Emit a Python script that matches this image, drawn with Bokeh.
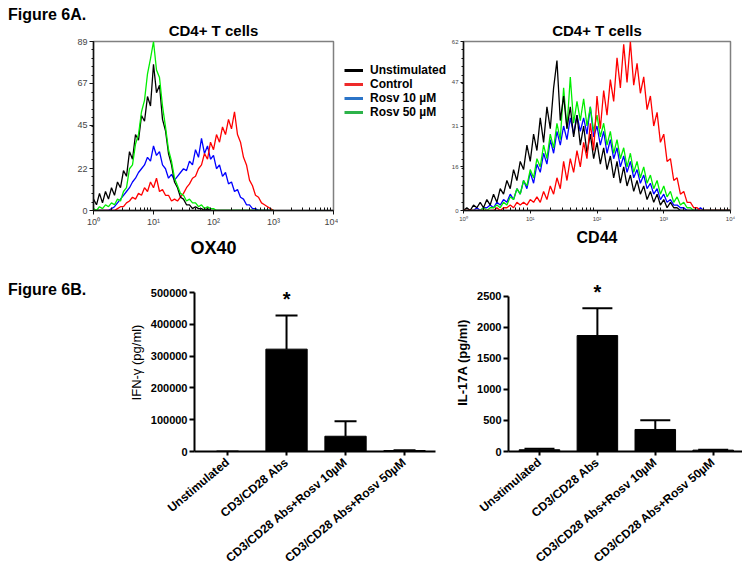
from bokeh.plotting import figure
from bokeh.models import (Legend, LegendItem, FixedTicker, Whisker, TeeHead,
                          ColumnDataSource, NumeralTickFormatter, Div)
from bokeh.layouts import row, column
from bokeh.embed import file_html
from bokeh.resources import INLINE
from bokeh.core.properties import value

FONT = "Liberation Sans"

# ---------------- Figure 6A data (histograms, log10 channel exponents) ----------------
OX40_EXP = [0.00, 0.05, 0.10, 0.15, 0.20, 0.25, 0.30, 0.35, 0.40, 0.45,
            0.50, 0.55, 0.60, 0.65, 0.70, 0.75, 0.80, 0.85, 0.90, 0.95,
            1.00, 1.05, 1.10, 1.15, 1.20, 1.25, 1.30, 1.35, 1.40, 1.45,
            1.50, 1.55, 1.60, 1.65, 1.70, 1.75, 1.80, 1.85, 1.90, 1.95,
            2.00, 2.05, 2.10, 2.15, 2.20, 2.25, 2.30, 2.35, 2.40, 2.45,
            2.50, 2.55, 2.60, 2.65, 2.70, 2.75, 2.80, 2.85, 2.90, 2.95, 3.00]
OX40_UNSTIM = [6, 3, 9, 4, 10, 6, 12, 8, 15, 12, 21, 18, 31, 27, 40, 37, 50, 47, 60, 55,
               77, 62, 66, 48, 42, 30, 24, 15, 12, 7, 6, 3, 3, 1, 2, 1, 1, 0, 1, 0,
               0, 0, 0, 0, 0, 0, 0, 0, 0, 0, 0, 0, 0, 0, 0, 0, 0, 0, 0, 0, 0]
OX40_CONTROL = [0, 0, 0, 0, 0, 0, 0, 0, 1, 2, 2, 4, 5, 7, 6, 9, 8, 12, 10, 15,
                12, 17, 10, 11, 8, 8, 5, 6, 5, 7, 9, 12, 14, 17, 18, 22, 24, 30, 27, 36,
                32, 40, 36, 44, 40, 48, 43, 52, 40, 36, 28, 24, 16, 13, 8, 7, 4, 3, 2, 1, 0]
OX40_ROSV10 = [0, 0, 0, 0, 0, 0, 1, 2, 4, 6, 8, 10, 12, 15, 17, 20, 22, 24, 28, 26,
               34, 29, 31, 24, 22, 17, 19, 16, 18, 20, 22, 21, 26, 24, 32, 28, 38, 30, 34, 27,
               29, 22, 24, 18, 20, 14, 15, 10, 11, 7, 6, 3, 3, 1, 1, 0, 0, 0, 0, 0, 0]
OX40_ROSV50 = [1, 0, 2, 1, 3, 2, 4, 3, 6, 5, 10, 12, 22, 24, 35, 40, 52, 58, 72, 80,
               89, 74, 70, 55, 44, 32, 26, 17, 13, 9, 8, 5, 6, 4, 4, 2, 3, 1, 2, 1,
               1, 0, 0, 0, 0, 0, 0, 0, 0, 0, 0, 0, 0, 0, 0, 0, 0, 0, 0, 0, 0]

CD44_EXP = [0.00, 0.05, 0.10, 0.15, 0.20, 0.25, 0.30, 0.35, 0.40, 0.45,
            0.50, 0.55, 0.60, 0.65, 0.70, 0.75, 0.80, 0.85, 0.90, 0.95,
            1.00, 1.05, 1.10, 1.15, 1.20, 1.25, 1.30, 1.35, 1.40, 1.45,
            1.50, 1.55, 1.60, 1.65, 1.70, 1.75, 1.80, 1.85, 1.90, 1.95,
            2.00, 2.05, 2.10, 2.15, 2.20, 2.25, 2.30, 2.35, 2.40, 2.45,
            2.50, 2.55, 2.60, 2.65, 2.70, 2.75, 2.80, 2.85, 2.90, 2.95,
            3.00, 3.05, 3.10, 3.15, 3.20, 3.25, 3.30, 3.35, 3.40, 3.45,
            3.50, 3.55, 3.60, 3.65, 3.70, 3.75, 3.80, 3.85, 3.90, 3.95, 4.00]
CD44_UNSTIM = [0, 1, 0, 2, 1, 3, 1, 4, 2, 6, 3, 8, 6, 11, 8, 15, 11, 18, 15, 24,
               18, 28, 22, 34, 25, 38, 30, 45, 55, 33, 42, 30, 38, 27, 35, 24, 31, 21, 28, 19,
               25, 17, 23, 15, 20, 12, 18, 10, 16, 9, 13, 7, 11, 6, 9, 4, 7, 3, 6, 2,
               4, 1, 3, 1, 1, 0, 0, 0, 0, 0, 0, 0, 0, 0, 0, 0, 0, 0, 0, 0, 0]
CD44_CONTROL = [0, 0, 0, 0, 0, 0, 0, 0, 0, 0, 1, 0, 1, 1, 2, 1, 3, 2, 3, 2,
                4, 3, 5, 3, 7, 4, 9, 6, 12, 8, 18, 11, 19, 14, 22, 16, 25, 19, 32, 22,
                42, 30, 44, 35, 48, 40, 56, 45, 61, 47, 62, 46, 54, 43, 49, 37, 42, 31, 36, 25,
                28, 18, 19, 11, 12, 6, 7, 3, 3, 1, 1, 0, 0, 0, 0, 0, 0, 0, 0, 0, 0]
CD44_ROSV10 = [0, 0, 0, 0, 1, 0, 1, 1, 2, 1, 3, 2, 4, 3, 6, 4, 8, 6, 11, 8,
               14, 10, 17, 14, 21, 17, 26, 21, 29, 24, 31, 26, 34, 28, 35, 29, 34, 28, 38, 27,
               31, 24, 29, 21, 26, 19, 23, 16, 20, 14, 18, 12, 15, 10, 13, 8, 10, 6, 8, 4,
               6, 3, 4, 2, 2, 1, 1, 0, 0, 0, 0, 1, 0, 0, 0, 0, 0, 0, 0, 0, 0]
CD44_ROSV50 = [0, 0, 0, 0, 0, 0, 1, 0, 1, 1, 2, 1, 3, 2, 5, 4, 8, 6, 11, 9,
               15, 12, 19, 16, 24, 19, 28, 23, 32, 26, 45, 30, 49, 32, 40, 33, 41, 31, 38, 29,
               35, 27, 32, 24, 29, 21, 26, 19, 23, 16, 21, 14, 18, 12, 16, 10, 13, 8, 11, 6,
               9, 5, 7, 3, 5, 2, 3, 1, 1, 0, 0, 0, 0, 0, 0, 0, 0, 0, 0, 0, 0]

SERIES_NAMES = ["Unstimulated", "Control", "Rosv 10 \u00b5M", "Rosv 50 \u00b5M"]
CURVE_COLORS = ["#000000", "#ff0000", "#0000ff", "#00ee00"]
LEGEND_COLORS = ["#000000", "#ee2a2a", "#2b74c8", "#2db34a"]

DECADES = [1, 10, 100, 1000, 10000]
DECADE_LABELS = ["10\u2070", "10\u00b9", "10\u00b2", "10\u00b3", "10\u2074"]
OX40_YTICKS = [0, 22, 45, 67, 89]
CD44_YTICKS = [0, 16, 31, 47, 62]

# ---------------- Figure 6B data (cytokines) ----------------
CATEGORIES = ["Unstimulated", "CD3/CD28 Abs", "CD3/CD28 Abs+Rosv 10\u00b5M",
              "CD3/CD28 Abs+Rosv 50\u00b5M"]
IFNG_MEAN = [0, 322000, 48000, 3000]
IFNG_SEM = [0, 106000, 47000, 1000]
IL17A_MEAN = [28, 1870, 355, 22]
IL17A_SEM = [15, 440, 150, 8]
SIGNIF = ["", "*", "", ""]
IFNG_TICKS = [0, 100000, 200000, 300000, 400000, 500000]
IL17A_TICKS = [0, 500, 1000, 1500, 2000, 2500]


def style_hist(p, yticks, ymax, label_size, xlabel, xlabel_size, xlabel_standoff,
               title_standoff):
    p.title.text_font = FONT
    p.title.text_font_size = "15px"
    p.title.text_font_style = "bold"
    p.title.text_color = "black"
    p.title.align = "center"
    p.title.standoff = title_standoff
    p.title.offset = 6
    p.xgrid.visible = False
    p.ygrid.visible = False
    p.outline_line_color = "#808080"
    p.outline_line_width = 1.5
    p.background_fill_color = "white"
    p.border_fill_alpha = 0
    ax = p.xaxis[0]
    ax.ticker = FixedTicker(ticks=DECADES,
                            minor_ticks=[m * d for d in DECADES[:-1] for m in range(2, 10)])
    ax.major_label_overrides = dict(zip(DECADES, DECADE_LABELS))
    ay = p.yaxis[0]
    ay.ticker = FixedTicker(ticks=yticks, minor_ticks=[ymax * i / 20 for i in range(21)])
    for a in (ax, ay):
        a.axis_line_color = "#111111"
        a.axis_line_width = 1.5
        a.major_tick_line_color = "#111111"
        a.minor_tick_line_color = "#111111"
        a.major_tick_out = 4
        a.major_tick_in = 0
        a.major_label_text_font = FONT
        a.major_label_text_font_size = label_size
        a.major_label_text_color = "#444444"
        a.major_label_standoff = 2
    ax.minor_tick_in = 3
    ax.minor_tick_out = 0
    ay.minor_tick_in = 0
    ay.minor_tick_out = 2
    ax.axis_label = xlabel
    ax.axis_label_text_font = FONT
    ax.axis_label_text_font_size = xlabel_size
    ax.axis_label_text_font_style = "bold"
    ax.axis_label_text_color = "black"
    ax.axis_label_standoff = xlabel_standoff


# ---------------- header text ----------------
divA = Div(text='<div style="font-family:\'Liberation Sans\';font-size:16px;font-weight:bold;'
                'line-height:16px;padding:7px 0 0 8px;white-space:nowrap;">Figure 6A.</div>',
           width=338, height=9, margin=(0, 0, 0, 0), styles={"overflow": "visible"})

# Top row: frames of the three figures share top (32 px) and bottom (50 px) borders.
TOP_H = 251
pA1 = figure(width=338, height=TOP_H, x_axis_type="log", x_range=(1, 10000), y_range=(0, 89),
             output_backend="svg", toolbar_location=None, title="CD4+ T cells",
             min_border_left=93, min_border_right=5, min_border_top=32, min_border_bottom=50)
style_hist(pA1, OX40_YTICKS, 89, "9px", "OX40", "18px", 8, 6)
ox_x = [10 ** e for e in OX40_EXP]
ox_series = [OX40_UNSTIM, OX40_CONTROL, OX40_ROSV10, OX40_ROSV50]
for i in (2, 1, 0, 3):
    pA1.line(ox_x, ox_series[i], line_color=CURVE_COLORS[i], line_width=1.3)

# ---------------- Legend strip (between A1 and A2) ----------------
pLeg = figure(width=110, height=TOP_H, x_range=(0, 1), y_range=(0, 1),
              x_axis_location=None, y_axis_location=None,
              output_backend="svg", toolbar_location=None, min_border_left=0,
              min_border_right=0, min_border_top=32, min_border_bottom=50,
              outline_line_color=None)
pLeg.grid.visible = False
pLeg.border_fill_alpha = 0
pLeg.background_fill_alpha = 0
legend_items = []
for name, col in zip(SERIES_NAMES, LEGEND_COLORS):
    r = pLeg.line(x=[float("nan")], y=[float("nan")], line_color=col, line_width=3)
    legend_items.append(LegendItem(label=name, renderers=[r]))
leg = Legend(items=legend_items, location=(6, 91), padding=0, margin=0, spacing=0,
             glyph_width=19, glyph_height=14, label_height=14, label_standoff=7,
             label_text_font=FONT, label_text_font_size="12px", label_text_font_style="bold",
             label_text_color="black", border_line_color=None, background_fill_alpha=0)
pLeg.add_layout(leg)

# ---------------- Panel A2: CD44 ----------------
pA2 = figure(width=294, height=TOP_H, x_axis_type="log", x_range=(1, 10000), y_range=(0, 62),
             output_backend="svg", toolbar_location=None, title="CD4+ T cells",
             min_border_left=12, min_border_right=12, min_border_top=32, min_border_bottom=50)
style_hist(pA2, CD44_YTICKS, 62, "6px", "CD44", "16px", 4, 6)
pA2.xaxis[0].major_tick_out = 3
pA2.yaxis[0].major_tick_out = 3
cd_x = [10 ** e for e in CD44_EXP]
cd_series = [CD44_UNSTIM, CD44_CONTROL, CD44_ROSV10, CD44_ROSV50]
for i in (2, 3, 0, 1):
    pA2.line(cd_x, cd_series[i], line_color=CURVE_COLORS[i], line_width=1.3)


# ---------------- Bar panels ----------------
def bar_panel(width, mbl, mbr, mbb, xr, ymax, ticks, means, sems, ylabel, ylabel_style,
              cap, fmt):
    p = figure(width=width, height=314, x_range=xr, y_range=(0, ymax),
               output_backend="svg", toolbar_location=None,
               min_border_left=mbl, min_border_right=mbr, min_border_top=13,
               min_border_bottom=mbb)
    p.xgrid.visible = False
    p.ygrid.visible = False
    p.outline_line_color = None
    idx = list(range(len(CATEGORIES)))
    upper = [m + s for m, s in zip(means, sems)]
    src = ColumnDataSource(data=dict(x=idx, mean=means, upper=upper, star=SIGNIF))
    p.vbar(x="x", top="mean", width=0.7, source=src, fill_color="black",
           line_color="black", line_width=1)
    p.add_layout(Whisker(base="x", lower="mean", upper="upper", source=src,
                         line_width=2, line_color="black", lower_head=None,
                         upper_head=TeeHead(size=cap, line_width=2, line_color="black")))
    p.text(x="x", y="upper", text="star", source=src, text_align="center",
           text_baseline="middle", y_offset=-16, text_font=value(FONT),
           text_font_size="20px", text_font_style="bold", text_color="black")
    ax = p.xaxis[0]
    ay = p.yaxis[0]
    ax.ticker = FixedTicker(ticks=idx)
    ax.major_label_overrides = dict(zip(idx, CATEGORIES))
    ax.major_label_orientation = 0.70
    ax.major_label_text_font_size = "12px"
    ay.ticker = FixedTicker(ticks=ticks)
    ay.formatter = fmt
    ay.bounds = (0, ticks[-1])
    ay.major_label_text_font_size = "11px"
    for a in (ax, ay):
        a.axis_line_width = 2
        a.axis_line_color = "black"
        a.major_tick_line_width = 2
        a.major_tick_line_color = "black"
        a.minor_tick_line_color = None
        a.major_tick_in = 0
        a.major_label_text_font = FONT
        a.major_label_text_font_style = "bold"
        a.major_label_text_color = "black"
    ax.major_tick_out = 4
    ax.major_label_standoff = 5
    ay.major_tick_out = 5
    ay.major_label_standoff = 2
    ay.axis_label = ylabel
    ay.axis_label_text_font = FONT
    ay.axis_label_text_font_size = "13px"
    ay.axis_label_text_font_style = ylabel_style
    ay.axis_label_text_color = "black"
    ay.axis_label_standoff = 4
    return p


divB = Div(text='<div style="font-family:\'Liberation Sans\';font-size:16px;font-weight:bold;'
                'line-height:16px;padding:22px 0 0 8px;white-space:nowrap;">Figure 6B.</div>',
           width=108, height=314, margin=(0, 0, 0, 0))
pB1 = bar_panel(340, 86, 13, 123, (-0.56, 3.525), 560000, IFNG_TICKS, IFNG_MEAN, IFNG_SEM,
                "IFN-\u03b3 (pg/ml)", "normal", 22, NumeralTickFormatter(format="0"))
pB2 = bar_panel(294, 60, 0, 123, (-0.535, 3.506), 2870, IL17A_TICKS, IL17A_MEAN, IL17A_SEM,
                "IL-17A (pg/ml)", "bold", 30, NumeralTickFormatter(format="0"))

layout = column(divA, row(pA1, pLeg, pA2), row(divB, pB1, pB2))
open("out.html", "w").write(file_html(layout, INLINE))
